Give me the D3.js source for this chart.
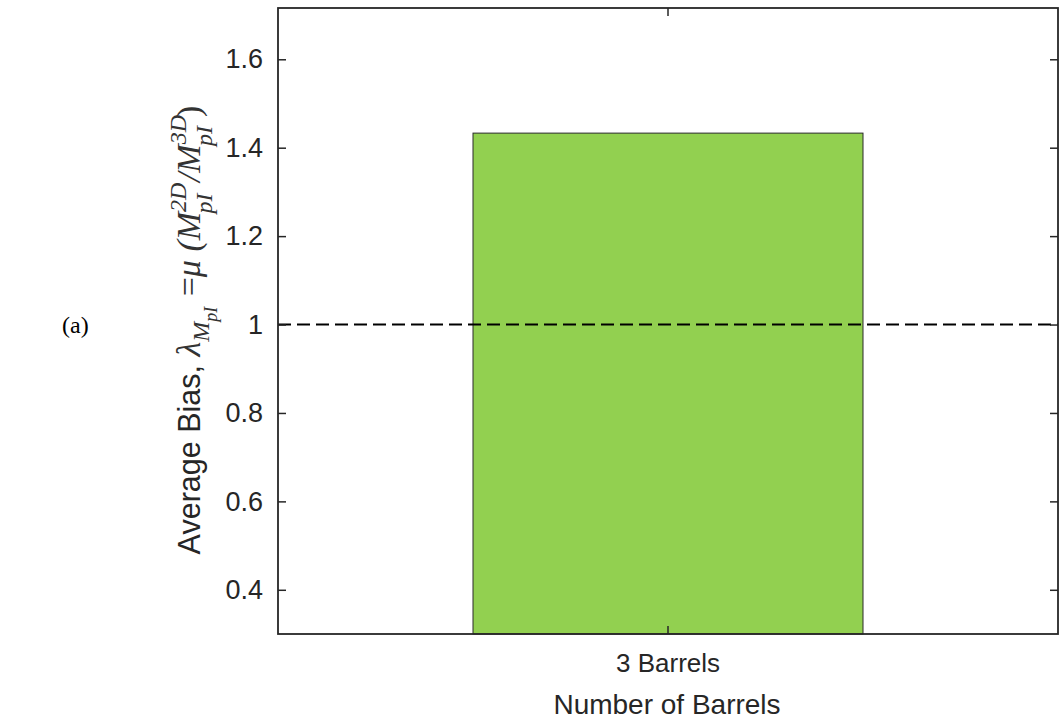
<!DOCTYPE html>
<html>
<head>
<meta charset="utf-8">
<script src="https://cdn.jsdelivr.net/npm/d3@7"></script>
<style>
  body { margin: 0; background: #fff; }
  svg { display: block; }
</style>
</head>
<body>
<svg id="chart" width="1059" height="719"></svg>
<script>
const categories = ["3 Barrels"];
const biasValues = [1.433];
const yTicks = [0.4, 0.6, 0.8, 1.0, 1.2, 1.4, 1.6];
const yDomain = [0.3, 1.716];
const referenceLine = [1.0];
const xTitle = "Number of Barrels";
const panelLabel = "(a)";

(function () {
const svg = d3.select("#chart");
const mL = 278, mR = 1058, mT = 8, mB = 634;
const axisColor = "#262626";
const sans = "'Liberation Sans', Arial, sans-serif";
const serif = "'Liberation Serif', 'Times New Roman', serif";

const x = d3.scaleBand().domain(categories).range([mL, mR]).paddingInner(0).paddingOuter(0.5);
const y = d3.scaleLinear().domain(yDomain).range([mB, mT]);

// bars
svg.append("g").selectAll("rect").data(biasValues).join("rect")
  .attr("x", (d, i) => x(categories[i]))
  .attr("width", x.bandwidth())
  .attr("y", d => y(d))
  .attr("height", d => y(yDomain[0]) - y(d))
  .attr("fill", "#92d050")
  .attr("stroke", "#2a2a2a")
  .attr("stroke-width", 1);

// reference dashed line
svg.append("g").selectAll("line").data(referenceLine).join("line")
  .attr("x1", mL).attr("x2", mR)
  .attr("y1", d => y(d)).attr("y2", d => y(d))
  .attr("stroke", "#000").attr("stroke-width", 2)
  .attr("stroke-dasharray", "13,6");

// axes
const tl = 8;
const yLeft = svg.append("g").attr("transform", `translate(${mL},0)`)
  .call(d3.axisLeft(y).tickValues(yTicks).tickSize(-tl).tickPadding(15)
    .tickFormat(d => d === 1 ? "1" : d3.format(".1f")(d)));
const yRight = svg.append("g").attr("transform", `translate(${mR},0)`)
  .call(d3.axisRight(y).tickValues(yTicks).tickSize(-tl).tickFormat(""));
const xBottom = svg.append("g").attr("transform", `translate(0,${mB})`)
  .call(d3.axisBottom(x).tickSize(-tl).tickPadding(20));
const xTop = svg.append("g").attr("transform", `translate(0,${mT})`)
  .call(d3.axisTop(x).tickSize(-tl).tickFormat(""));

[yLeft, yRight, xBottom, xTop].forEach(g => {
  g.select(".domain").remove();
  g.selectAll(".tick line").attr("stroke", axisColor).attr("stroke-width", 1.5);
  g.selectAll(".tick text").attr("fill", axisColor).attr("font-family", sans).attr("font-size", 26);
});
yLeft.selectAll(".tick text").attr("font-size", 27);

// frame
svg.append("rect").attr("x", mL).attr("y", mT)
  .attr("width", mR - mL).attr("height", mB - mT)
  .attr("fill", "none").attr("stroke", axisColor).attr("stroke-width", 1.8);

// x title
svg.append("text").attr("x", (mL + mR) / 2 - 1).attr("y", 714)
  .attr("text-anchor", "middle").attr("font-family", sans).attr("font-size", 28)
  .attr("fill", axisColor).text(xTitle);

// panel label
svg.append("text").attr("x", 62).attr("y", 333)
  .attr("font-family", serif).attr("font-size", 24).attr("fill", "#000").text(panelLabel);

// y title with math
const mc = "#333";
const yt = svg.append("text")
  .attr("transform", "translate(200,330) rotate(-90)")
  .attr("text-anchor", "middle").attr("fill", axisColor).attr("font-size", 30.5);
const add = (txt, opts) => {
  const t = yt.append("tspan").text(txt);
  if (opts.serif) t.attr("font-family", serif).attr("fill", mc).attr("font-size", opts.fs || 34);
  else t.attr("font-family", sans);
  if (opts.it) t.attr("font-style", "italic");
  if (opts.dy) t.attr("dy", opts.dy);
  if (opts.dx) t.attr("dx", opts.dx);
  return t;
};
add("Average Bias, ", {});
add("λ", {serif: 1, it: 1});
add("M", {serif: 1, it: 1, fs: 24, dy: 9});
add("pI", {serif: 1, it: 1, fs: 18, dy: 8});
add(" =", {serif: 1, dy: -17, dx: 2});
add("μ (M", {serif: 1, it: 1});
add("2D", {serif: 1, it: 1, fs: 24, dy: -14});
add("pI", {serif: 1, it: 1, fs: 24, dy: 26, dx: -31});
add(" /M", {serif: 1, it: 1, dy: -12, dx: 3});
add("3D", {serif: 1, it: 1, fs: 24, dy: -14});
add("pI", {serif: 1, it: 1, fs: 24, dy: 26, dx: -31});
add(")", {serif: 1, dy: -12, dx: 9});
})();
</script>
</body>
</html>
